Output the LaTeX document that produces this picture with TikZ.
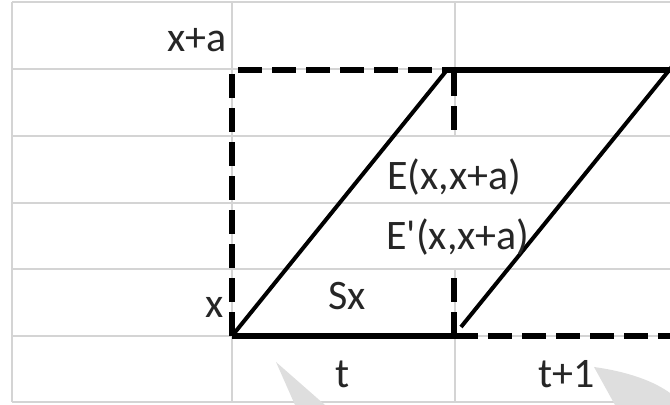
\documentclass[tikz,border=0pt]{standalone}
\usepackage{fontspec}
\setmainfont{Carlito}
\usetikzlibrary{positioning}

\begin{document}
\begin{tikzpicture}[x=0.5pt, y=-0.5pt,
    cell/.style={draw=black!17, line width=1pt},
    bold/.style={line width=3.2pt},
    slant/.style={line width=2pt},
    guide/.style={line width=2.8pt, dash pattern=on 12pt off 5pt},
    lbl/.style={inner sep=0pt, font=\fontsize{21}{25}\selectfont, text=black!85},
    ghost/.style={fill=black!13, draw=none},
]
\useasboundingbox (0,0) rectangle (670,405);
\clip (0,0) rectangle (670,405);

% Sheet cells (text in rows 3-4 hides the line at 455)
\foreach \y in {2,69,136,203,269,336,402}
  \draw[cell] (12,\y) -- (670,\y);
\foreach \x in {12,232}
  \draw[cell] (\x,2) -- (\x,402);
\draw[cell] (455,2) -- (455,136);
\draw[cell] (455,269) -- (455,402);

% Faint marks in the last row
\fill[ghost] (276,362) -- (325,405) -- (295,405) -- cycle;
\fill[ghost] (594,367) .. controls (630,372) and (655,382) .. (670,393)
    -- (670,405) -- (615,405) -- cycle;

% Corners
\coordinate (O) at (232,336);
\coordinate (S) at (454,336);
\coordinate (A) at (447,70);
\coordinate (B) at (672,70);
\coordinate (Xa) at (232,70);
\coordinate (T) at (454,72);
\coordinate (T2) at (454,137);
\coordinate (U) at (454,272);
\coordinate (E) at (672,336);
\coordinate (Q) at (461,327);
\coordinate (R) at (679,58);

% Dashed guides
\draw[guide] (O) -- (Xa) -- (A);
\draw[guide] (T) -- (T2);
\draw[guide] (S) -- (U);
\draw[guide] (S) -- (E);

% Solid edges
\draw[bold] (O) -- (S);
\draw[bold] (A) -- (B);
\draw[slant] (O) -- (A);
\draw[slant] (Q) -- (R);

% Labels
\node[lbl, anchor=base east] (xa) at (227,52) {x+a};
\node[lbl, anchor=base east] (x0) at (224,318) {x};
\node[lbl, anchor=base west] (sx) at (328,310) {Sx};
\node[lbl, anchor=base west] (ex) at (387,190) {E(x,x+a)};
\node[lbl, anchor=base west] (epx) at (386,250) {E\textquotesingle(x,x+a)};
\node[lbl, anchor=base] (t0) at (343,388) {t};
\node[lbl, anchor=base] (t1) at (567,388) {t+1};
\end{tikzpicture}
\end{document}
